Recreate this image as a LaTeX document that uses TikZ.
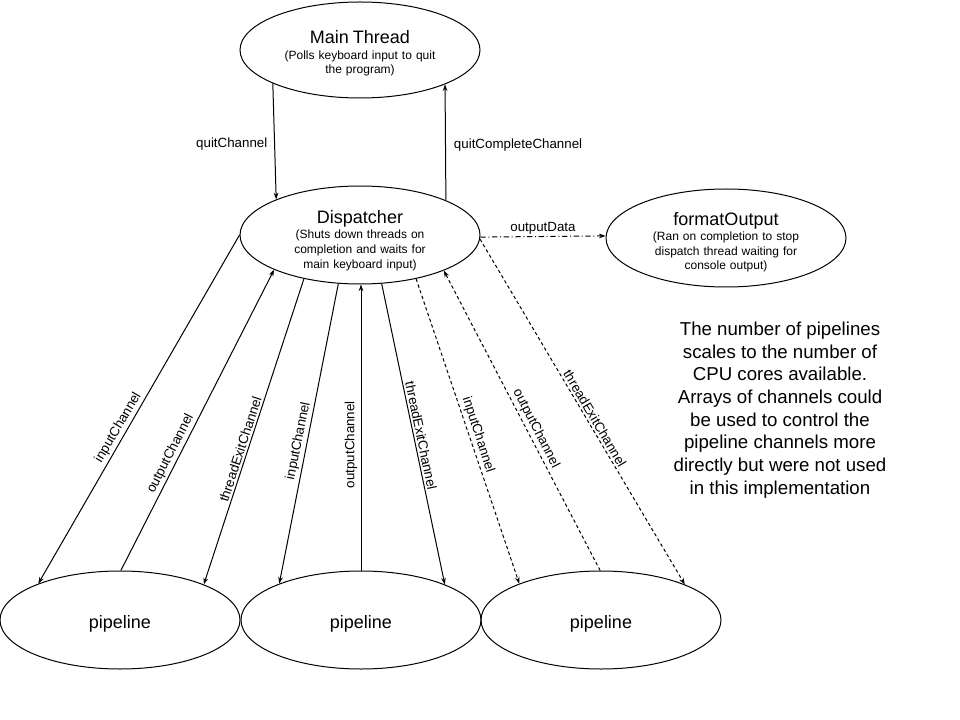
\documentclass[tikz,border=0pt]{standalone}
\usepackage{fontspec}
\setmainfont{Liberation Sans}
\usepackage{tikz}
\usetikzlibrary{arrows.meta,shapes.geometric}
\newcommand{\proctitle}[2]{{\fontsize{13.5}{16}\selectfont\rule{0pt}{#1}#2}}

\begin{document}
\begin{tikzpicture}[x=0.75pt,y=0.75pt,yscale=-1,xscale=1,
  proc/.style={ellipse, draw, line width=0.75pt, minimum width=180pt, minimum height=73.5pt, inner xsep=0pt, inner ysep=-1pt, text width=120pt, align=center, font=\fontsize{9}{11}\selectfont},
  pipe/.style={ellipse, draw, line width=0.75pt, minimum width=180pt, minimum height=73.5pt, text height=14pt, text depth=2pt, font=\fontsize{13.5}{16}\selectfont},
  chan/.style={line width=0.75pt, -{Stealth[length=5pt,width=3.5pt]}},
  chandash/.style={chan, dash pattern={on 2.5pt off 2pt}},
  lbl/.style={font=\fontsize{10}{12}\selectfont, inner sep=1.5pt}]
\useasboundingbox (0,0) rectangle (960,720);

%Shape: Ellipse
\node [proc, minimum height=72pt] (main) at (360,50) {\proctitle{15pt}{Main Thread}\\[0.5pt] (Polls keyboard input to quit\\ the program)};
%Shape: Ellipse
\node [proc] (disp) at (360,235) {\proctitle{18pt}{Dispatcher}\\[0.5pt] (Shuts down threads on\\ completion and waits for\\ main keyboard input)};
%Shape: Ellipse
\node [proc] (fmt) at (726,238) {\proctitle{16pt}{formatOutput}\\[0.5pt] (Ran on completion to stop\\ dispatch thread waiting for\\ console output)};
%Shape: Ellipse
\node [pipe] (pipeA) at (120,620) {pipeline};
\node [pipe] (pipeB) at (361,620) {pipeline};
\node [pipe] (pipeC) at (601,620) {pipeline};

%Straight Lines
\draw [chan] (main.201.7) -- (disp.157.9) node [lbl, midway, left=3.5pt, yshift=-2pt] {quitChannel};
\draw [chan] (disp.22.1) -- (main.338.3) node [lbl, midway, right=4.5pt, yshift=-2pt] {quitCompleteChannel};
\draw [chan, dash pattern={on 4pt off 2pt on 0.75pt off 2pt}] (disp.-1) -- (fmt.179.5) node [lbl, midway, above] {outputData};

%Straight Lines
\draw [chan] (disp.180) -- (pipeA.156.5) node [lbl, pos=0.565, rotate=59.5, above] {inputChannel};
\draw [chan] (pipeA.89) -- (disp.202.4) node [lbl, pos=0.375, rotate=62.9, above] {outputChannel};
\draw [chan] (disp.218.4) -- (pipeA.23.3) node [lbl, pos=0.565, rotate=71.9, above] {threadExitChannel};
%Straight Lines
\draw [chan] (disp.246.8) -- (pipeB.156.2) node [lbl, pos=0.53, rotate=78.3, above] {inputChannel};
\draw [chan] (pipeB.north) -- (pipeB.north |- disp.south) node [lbl, pos=0.44, rotate=90, above=1pt] {outputChannel};
\draw [chan] (disp.294.8) -- (pipeB.23.8) node [lbl, pos=0.51, rotate=-78.2, above] {threadExitChannel};
%Straight Lines
\draw [chandash] (disp.322.7) -- (pipeC.156.7) node [lbl, pos=0.52, rotate=-72.1, above] {inputChannel};
\draw [chandash] (pipeC.91) -- (disp.337.6) node [lbl, pos=0.46, rotate=-62.9, above] {outputChannel};
\draw [chandash] (disp.-2) -- (pipeC.23.8) node [lbl, pos=0.53, rotate=-59.3, above] {threadExitChannel};

% Text Node
\node [align=center, font=\fontsize{14}{17}\selectfont] (note) at (780,410) {The number of pipelines\\ scales to the number of\\ CPU cores available.\\ Arrays of channels could\\ be used to control the\\ pipeline channels more\\ directly but were not used\\ in this implementation};

\end{tikzpicture}
\end{document}
